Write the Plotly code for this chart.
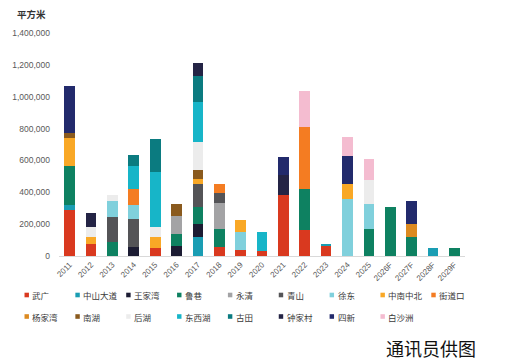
import plotly.graph_objects as go

years = ["2011", "2012", "2013", "2014", "2015", "2016", "2017", "2018", "2019", "2020",
         "2021", "2022", "2023", "2024", "2025", "2026F", "2027F", "2028F", "2029F"]

names = ["武广", "中山大道", "王家湾", "鲁巷", "永清", "青山", "徐东", "中南中北", "街道口",
         "杨家湾", "南湖", "后湖", "东西湖", "古田", "钟家村", "四新", "白沙洲"]

colors = ["#d9391f", "#1a9db3", "#1c1c33", "#0e8161", "#a3a3a5", "#545457", "#80d0dc",
          "#f9a826", "#f47c22", "#dc8a20", "#8a5a1e", "#ececec", "#17b5c8", "#0b7b80",
          "#242445", "#222a6c", "#f4bcd0"]

#            2011    2012   2013    2014    2015    2016    2017    2018    2019    2020    2021    2022    2023   2024    2025    26F     27F     28F    29F
wuguang   = [290000, 73000, 0,      0,      48000,  0,      0,      58000,  35000,  30000,  386000, 162000, 66000, 0,      0,      0,      0,      0,     0]
zhongshan = [31000,  0,     0,      0,      0,      0,      121000, 0,      0,      0,      0,      0,      8000,  0,      0,      0,      0,      52000, 0]
wangjiawan= [0,      0,     0,      58000,  0,      64000,  78000,  0,      0,      0,      0,      0,      0,     0,      0,      0,      0,      0,     0]
luxiang   = [241000, 0,     89000,  0,      0,      73000,  110000, 111000, 0,      0,      0,      256000, 0,     0,      169000, 308000, 117000, 0,     48000]
yongqing  = [0,      0,     0,      0,      0,      112000, 0,      165000, 0,      0,      0,      0,      0,     0,      0,      0,      0,      0,     0]
qingshan  = [0,      0,     156000, 177000, 0,      0,      140000, 59000,  0,      0,      0,      0,      0,     0,      0,      0,      0,      0,     0]
xudong    = [0,      0,     100000, 83000,  0,      0,      0,      0,      115000, 0,      0,      0,      0,     361000, 156000, 0,      0,      0,     0]
zhongnan  = [181000, 48000, 0,      0,      69000,  0,      37000,  0,      73000,  0,      0,      0,      0,     94000,  0,      0,      0,      0,     0]
jiedaokou = [0,      0,     0,      100000, 0,      0,      0,      58000,  0,      0,      0,      390000, 0,     0,      0,      0,      0,      0,     0]
yangjiawan= [0,      0,     0,      0,      0,      0,      0,      0,      0,      0,      0,      0,      0,     0,      0,      0,      87000,  0,     0]
nanhu     = [31000,  0,     0,      0,      0,      79000,  52000,  0,      0,      0,      0,      0,      0,     0,      0,      0,      0,      0,     0]
houhu     = [0,      62000, 38000,  0,      66000,  0,      177000, 0,      0,      0,      0,      0,      0,     0,      150000, 0,      0,      0,     0]
dongxihu  = [0,      0,     0,      146000, 344000, 0,      254000, 0,      0,      123000, 0,      0,      0,     0,      0,      0,      0,      0,     0]
gutian    = [0,      0,     0,      73000,  209000, 0,      158000, 0,      0,      0,      0,      0,      0,     0,      0,      0,      0,      0,     0]
zhongjiacun=[0,      84000, 0,      0,      0,      0,      84000,  0,      0,      0,      121000, 0,      0,     0,      0,      0,      0,      0,     0]
sixin     = [294000, 0,     0,      0,      0,      0,      0,      0,      0,      0,      115000, 0,      0,     171000, 0,      0,      141000, 0,     0]
baishazhou= [0,      0,     0,      0,      0,      0,      0,      0,      0,      0,      0,      225000, 0,     121000, 131000, 0,      0,      0,     0]

series = [wuguang, zhongshan, wangjiawan, luxiang, yongqing, qingshan, xudong, zhongnan,
          jiedaokou, yangjiawan, nanhu, houhu, dongxihu, gutian, zhongjiacun, sixin, baishazhou]

y_ticks = [0, 200000, 400000, 600000, 800000, 1000000, 1200000, 1400000]

W, H = 505, 362
L, R, T, B = 53, 40, 33, 106
PW, PH = W - L - R, H - T - B

def px_x(px):
    return (px - L) / PW

def px_y(py):
    return (H - B - py) / PH

fig = go.Figure()
for name, vals, col in zip(names, series, colors):
    fig.add_trace(go.Bar(
        x=years, y=[v if v else None for v in vals], name=name,
        marker=dict(color=col, line=dict(width=0)),
        showlegend=False,
    ))

# manual legend (two rows, fixed column spacing)
shapes = []
annotations = []
for i, (name, col) in enumerate(zip(names, colors)):
    row, c = divmod(i, 9)
    x0 = 18 + c * 51.6
    yc = 295 + row * 21.5
    shapes.append(dict(type="rect", xref="paper", yref="paper",
                       x0=px_x(x0), x1=px_x(x0 + 4.5),
                       y0=px_y(yc + 2.3), y1=px_y(yc - 2.3),
                       fillcolor=col, line=dict(width=0)))
    annotations.append(dict(text=name, xref="paper", yref="paper",
                            x=px_x(x0 + 6), y=px_y(yc), xanchor="left", yanchor="middle",
                            showarrow=False,
                            font=dict(size=8.5, color="#3a3a3a", family="Noto Sans CJK SC")))

annotations.append(dict(text="<b>平方米</b>", xref="paper", yref="paper",
                        x=px_x(8), y=px_y(14), xanchor="left", yanchor="middle",
                        showarrow=False,
                        font=dict(size=9.5, color="#333333", family="Noto Sans CJK SC")))
annotations.append(dict(text="通讯员供图", xref="paper", yref="paper",
                        x=px_x(383), y=px_y(348), xanchor="left", yanchor="middle",
                        showarrow=False,
                        font=dict(size=18, color="#111111", family="Noto Sans CJK SC")))

fig.update_layout(
    width=W, height=H,
    margin=dict(l=L, r=R, t=T, b=B, pad=0),
    barmode="stack",
    bargap=0.5,
    paper_bgcolor="white", plot_bgcolor="white",
    font=dict(family="Liberation Sans, Arial, sans-serif", color="#595959"),
    shapes=shapes,
    annotations=annotations,
    xaxis=dict(type="category", categoryorder="array", categoryarray=years,
               tickangle=-45, tickfont=dict(size=8, color="#595959"),
               showline=True, linecolor="#d9d9d9", linewidth=1,
               ticks="", showgrid=False, zeroline=False),
    yaxis=dict(range=[0, 1400000], tickvals=y_ticks, tickformat=",d",
               tickfont=dict(size=8.5, color="#595959"),
               showgrid=False, zeroline=False, showline=False, ticks="",
               ticklabelstandoff=8),
)

fig.write_html("out.html",
               config={"displayModeBar": False},
               post_script="document.body.style.margin='0';document.body.style.padding='0';")
